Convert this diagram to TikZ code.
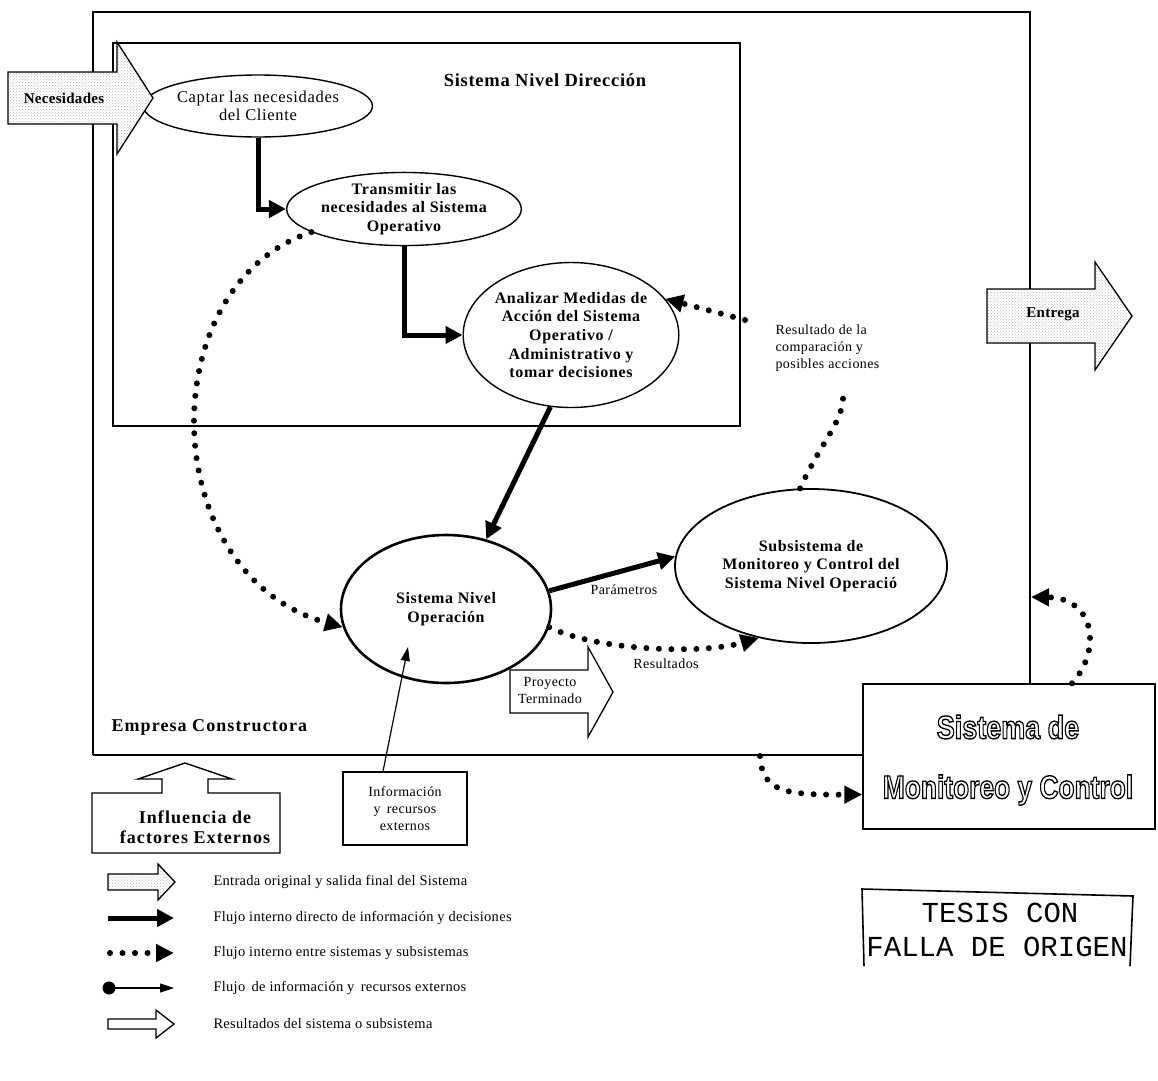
\documentclass[tikz,border=0pt]{standalone}
\usepackage{fontspec}
\setmainfont{Liberation Serif}
\newfontfamily\stampface{Liberation Mono}
\newfontfamily\signface{Liberation Sans}
\usetikzlibrary{arrows.meta,patterns,shapes.geometric}

% text styles
\newcommand\boldlbl{\fontsize{16}{18.6}\selectfont\bfseries\addfontfeature{LetterSpace=4}}
\newcommand\plainlbl{\fontsize{16.5}{18.6}\selectfont\addfontfeature{LetterSpace=4}}
\newcommand\smalllbl{\fontsize{15}{17}\selectfont\bfseries\addfontfeature{LetterSpace=2}}
\newcommand\smallplain{\fontsize{14}{17}\selectfont\addfontfeature{LetterSpace=3}}
\newcommand\legendlbl{\fontsize{14.5}{16}\selectfont\addfontfeature{LetterSpace=2}}
\newcommand\biglbl{\fontsize{18}{20.5}\selectfont\bfseries\addfontfeature{LetterSpace=6}}
% stroked (hollow) lettering
\newcommand\hollowtext[1]{\special{pdf:literal direct 1 Tr 1.3 w}#1\special{pdf:literal direct 0 Tr}}

\tikzset{
  bubble/.style={draw, ellipse, line width=1.4pt, inner sep=0pt, align=center, font=\boldlbl},
  mainflow/.style={line width=5pt, -{Triangle[length=17pt,width=17pt]}},
  dotflow/.style={line width=6pt, line cap=round, dash pattern=on 0pt off 12.5pt, -{Triangle[length=18pt,width=17pt]}},
  dotline/.style={line width=6pt, line cap=round, dash pattern=on 0pt off 12.5pt},
  extflow/.style={line width=1.2pt, -{Triangle[length=14pt,width=9pt]}},
  hollowarrow/.style={draw, line width=1.3pt, fill=white, line join=miter},
  grainarrow/.style={draw, line width=1.3pt, line join=miter, preaction={fill=white}, pattern=crosshatch dots, pattern color=gray!55},
  panel/.style={draw, line width=1.4pt, fill=white, inner sep=0pt},
}

\begin{document}
\begin{tikzpicture}[x=1pt,y=-1pt]
\useasboundingbox (0,0) rectangle (1158,1080);
\fill[white] (0,0) rectangle (1158,1080);

% company frame
\draw[line width=2.6pt] (93,755) -- (93,12) -- (1030,12) -- (1030,684);
\draw[line width=2.6pt] (93,755) -- (863,755);
\node[font=\biglbl, anchor=west] (company) at (108,727) {Empresa Constructora};

% direction-level system box
\draw[line width=1.8pt] (113,43) rectangle (740,426);
\node[font=\boldlbl\fontsize{18.5}{20}\selectfont] (dirtitle) at (545,80) {Sistema Nivel Dirección};

% process bubbles
\node[bubble, font=\plainlbl, minimum width=210pt, minimum height=62pt] (captar) at (258,106) {Captar las necesidades\\del Cliente};
\node[bubble, minimum width=208pt, minimum height=68pt] (trans) at (404,209) {Transmitir las\\necesidades al Sistema\\Operativo};
\node[bubble, minimum width=212pt, minimum height=145pt] (anal) at (571,335) {Analizar Medidas de\\Acción del Sistema\\Operativo /\\Administrativo y\\tomar decisiones};
\node[bubble, line width=2.6pt, minimum width=210pt, minimum height=148pt] (sno) at (446,609) {Sistema Nivel\\Operación};
\node[bubble, line width=1.8pt, minimum width=272pt, minimum height=154pt] (sub) at (811,566) {Subsistema de\\Monitoreo y Control del\\Sistema Nivel Operació};

% monitoring and control system
\node[panel, minimum width=292pt, minimum height=145pt] (smc) at (1009,756.5) {};
\node[font=\signface\bfseries\fontsize{31}{32}\selectfont] (smc1) at (1008,727) {\scalebox{0.87}[1.05]{\hollowtext{Sistema de}}};
\node[font=\signface\bfseries\fontsize{31}{32}\selectfont] (smc2) at (1008,790) {\scalebox{0.85}[1.05]{\hollowtext{Monitoreo y Control}}};

% system input and final delivery
\draw[grainarrow] (8,72) -- (117,72) -- (117,42) -- (153,98) -- (117,154) -- (117,124) -- (8,124) -- cycle;
\node[font=\smalllbl] (needs) at (64,98) {Necesidades};
\draw[grainarrow] (987,289) -- (1095,289) -- (1095,262) -- (1132,316) -- (1095,370) -- (1095,343) -- (987,343) -- cycle;
\node[font=\smalllbl] (deliver) at (1053,314) {Entrega};

% finished project output
\draw[hollowarrow] (510,670) -- (588,670) -- (588,647) -- (613,692) -- (588,737) -- (588,713) -- (510,713) -- cycle;
\node[font=\smallplain, align=center] (project) at (550,690) {Proyecto\\Terminado};

% direct flows
\draw[mainflow] (captar.south) |- (trans.west);
\draw[mainflow] (trans.south) |- (anal.west);
\draw[mainflow] (anal.-106) -- (sno.60);
\draw[mainflow] (sno.10) -- (sub.176);
\node[font=\smallplain] (param) at (624,590) {Parámetros};

% flows between systems
\coordinate (cmpend) at (745,320);
\coordinate (subtop) at (843,393);
\coordinate (framehit) at (1031,597);
\coordinate (framelow) at (760,756);
\draw[dotflow] (trans.194) .. controls (150,285) and (155,575) .. (sno.190);
\draw[dotflow] (sno.-10) .. controls (595,650) and (700,655) .. (sub.-126);
\node[font=\smallplain] (results) at (666,664) {Resultados};
\draw[dotline] (sub.98) .. controls (822,440) and (845,420) .. (subtop);
\draw[dotflow] (cmpend) -- (anal.21);
\node[font=\smallplain, align=left, anchor=north west] (cmptext) at (772,321) {Resultado de la\\comparación y\\posibles acciones};
\draw[dotflow] ([xshift=63pt]smc.north) .. controls (1102,650) and (1095,598) .. (framehit);
\draw[dotflow] (framelow) .. controls (762,792) and (785,795) .. ([yshift=-38pt]smc.west);

% external influence
\draw[line width=1.4pt, line join=miter] (162,793) -- (92,793) -- (92,853) -- (280,853) -- (280,793) -- (208,793) -- (208,779) -- (232,779) -- (185,763) -- (138,779) -- (162,779) -- cycle;
\node[font=\biglbl, align=center] (infl) at (195,827) {Influencia de\\factores Externos};

% external information and resources
\node[panel, minimum width=124pt, minimum height=73pt, align=center, font=\smallplain] (info) at (405,808.5) {Información\\y\, recursos\\externos};
\coordinate (infotip) at (408,647);
\draw[extflow] ([xshift=-22pt]info.north) -- (infotip);

% legend
\draw[grainarrow] (108,874) -- (158,874) -- (158,864) -- (175,882) -- (158,900) -- (158,890) -- (108,890) -- cycle;
\node[font=\legendlbl, anchor=west] (leg1) at (210,882) {Entrada original y salida final del Sistema};
\coordinate (l2a) at (108,918);
\coordinate (l2b) at (174,918);
\draw[mainflow] (l2a) -- (l2b);
\node[font=\legendlbl, anchor=west] (leg2) at (210,918) {Flujo interno directo de información y decisiones};
\coordinate (l3a) at (110,953);
\coordinate (l3b) at (174,953);
\draw[dotflow] (l3a) -- (l3b);
\node[font=\legendlbl, anchor=west] (leg3) at (210,953) {Flujo interno entre sistemas y subsistemas};
\fill (109,988) circle (6.5pt);
\coordinate (l4a) at (109,988);
\coordinate (l4b) at (174,988);
\draw[extflow] (l4a) -- (l4b);
\node[font=\legendlbl, anchor=west] (leg4) at (210,988) {Flujo\, de información y\, recursos externos};
\draw[hollowarrow] (108,1019) -- (156,1019) -- (156,1010) -- (174,1024) -- (156,1038) -- (156,1029) -- (108,1029) -- cycle;
\node[font=\legendlbl, anchor=west] (leg5) at (210,1024) {Resultados del sistema o subsistema};

% stamp
\draw[line width=1.6pt] (864,966) -- (862,889) -- (1133,896) -- (1130,966);
\node[font=\stampface\fontsize{29}{32}\selectfont] (stamp1) at (1000,913) {TESIS CON};
\node[font=\stampface\fontsize{29}{32}\selectfont] (stamp2) at (997,947) {FALLA DE ORIGEN};
\end{tikzpicture}
\end{document}
